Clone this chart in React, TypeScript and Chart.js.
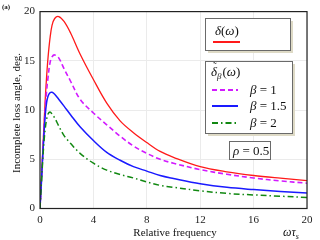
import { useEffect, useRef } from 'react';
import { Chart, registerables } from 'chart.js';
Chart.register(...registerables);

const freq = [0, 0.1, 0.2, 0.3, 0.4, 0.5, 0.6, 0.75, 0.9, 1.1, 1.4, 1.8, 2.3, 3, 4, 5, 6, 7, 8, 9, 10, 12, 14, 16, 18, 20];
const delta = [0, 2.8, 5.7, 8.5, 11.3, 13.5, 15.3, 17.3, 18.6, 19.3, 19.5, 19.0, 17.8, 15.7, 13.1, 10.7, 8.9, 7.7, 6.7, 5.8, 5.2, 4.25, 3.72, 3.35, 3.08, 2.84];
const beta1 = [0, 2.6, 5.3, 8.0, 10.3, 12.0, 13.3, 14.8, 15.4, 15.6, 15.3, 14.2, 12.9, 11.1, 9.7, 8.5, 7.35, 6.35, 5.6, 5.0, 4.6, 3.95, 3.48, 3.1, 2.8, 2.57];
const beta15 = [0, 2.6, 5.2, 7.6, 9.6, 10.8, 11.4, 11.75, 11.8, 11.6, 11.1, 10.4, 9.5, 8.3, 6.9, 5.7, 4.9, 4.25, 3.8, 3.35, 3.05, 2.52, 2.15, 1.92, 1.73, 1.58];
const beta2 = [0, 2.4, 4.8, 6.8, 8.2, 9.1, 9.6, 9.8, 9.6, 9.2, 8.4, 7.4, 6.6, 5.6, 4.6, 3.9, 3.45, 3.1, 2.7, 2.35, 2.15, 1.8, 1.53, 1.38, 1.25, 1.12];
const betaLabels = ['1', '1.5', '2'];
const xTicks = [0, 4, 8, 12, 16, 20];
const yTicks = [0, 5, 10, 15, 20];

const SERIF = '"Liberation Serif", "DejaVu Serif", serif';
const RED = '#ff1a1a';
const MAGENTA = '#d21aff';
const BLUE = '#1a1aff';
const GREEN = '#118811';
const DASH_M = [5, 3];
const DASH_G = [6, 3, 1.5, 3];

const pts = (ys: number[]) => freq.map((x, i) => ({ x, y: ys[i] }));

function drawSample(ctx: CanvasRenderingContext2D, x1: number, x2: number, y: number, color: string, dash: number[], lw: number) {
  ctx.save();
  ctx.strokeStyle = color;
  ctx.lineWidth = lw;
  ctx.setLineDash(dash);
  ctx.beginPath();
  ctx.moveTo(x1, y);
  ctx.lineTo(x2, y);
  ctx.stroke();
  ctx.restore();
}

function drawBox(ctx: CanvasRenderingContext2D, x: number, y: number, w: number, h: number, shadow: number) {
  if (shadow > 0) {
    ctx.fillStyle = '#dedac6';
    ctx.fillRect(x + shadow, y + shadow, w, h);
  }
  ctx.fillStyle = '#ffffff';
  ctx.fillRect(x, y, w, h);
  ctx.strokeStyle = '#6a6a6a';
  ctx.lineWidth = 1;
  ctx.strokeRect(x + 0.5, y + 0.5, w, h);
}

function runs(ctx: CanvasRenderingContext2D, x: number, y: number, parts: [string, string][]) {
  let cx = x;
  for (const [font, text] of parts) {
    ctx.font = font;
    ctx.fillText(text, cx, y);
    cx += ctx.measureText(text).width;
  }
  return cx;
}

const overlay = {
  id: 'overlay',
  afterDraw(chart: any) {
    const { ctx, chartArea: a } = chart;
    ctx.save();
    ctx.strokeStyle = '#222';
    ctx.lineWidth = 1.2;
    ctx.strokeRect(a.left, a.top, a.right - a.left, a.bottom - a.top);

    ctx.fillStyle = '#111';
    ctx.textBaseline = 'alphabetic';
    ctx.textAlign = 'left';
    const it = (s: number) => `italic ${s}px ${SERIF}`;
    const rg = (s: number) => `${s}px ${SERIF}`;

    // (a)
    ctx.font = `bold 7px ${SERIF}`;
    ctx.fillText('(a)', 2, 9);

    // Legend box 1
    drawBox(ctx, 205, 18, 85, 32, 3);
    ctx.fillStyle = '#111';
    runs(ctx, 215, 35, [[it(13), 'δ'], [rg(13), '('], [it(13), 'ω'], [rg(13), ')']]);
    drawSample(ctx, 213, 240, 42, RED, [], 2);

    // Legend box 2
    drawBox(ctx, 205, 61, 87, 72, 3);
    ctx.fillStyle = '#111';
    ctx.font = it(13);
    const dw = ctx.measureText('δ').width;
    ctx.fillText('δ', 211, 76);
    ctx.font = rg(11);
    ctx.fillText('˜', 212 + dw / 2 - 2, 70);
    runs(ctx, 211 + dw, 79, [[it(9), 'β']]);
    ctx.font = it(9);
    const bw = ctx.measureText('β').width;
    runs(ctx, 212 + dw + bw, 76, [[rg(13), '('], [it(13), 'ω'], [rg(13), ')']]);

    const rows: [number, string, number[]][] = [[90, MAGENTA, DASH_M], [106, BLUE, []], [123, GREEN, DASH_G]];
    rows.forEach(([y, c, d], i) => {
      drawSample(ctx, 212, 238, y, c, d, 2);
      ctx.fillStyle = '#111';
      runs(ctx, 250, y + 4, [[it(13), 'β'], [rg(13), ' = ' + betaLabels[i]]]);
    });

    // rho box
    drawBox(ctx, 229, 141, 41, 18, 0);
    ctx.fillStyle = '#111';
    runs(ctx, 233, 155, [[it(13), 'ρ'], [rg(13), ' = 0.5']]);

    // axis titles
    ctx.font = rg(11);
    ctx.textAlign = 'center';
    ctx.fillText('Relative frequency', 175, 236);
    ctx.textAlign = 'left';
    let ex = runs(ctx, 283, 236, [[it(12), 'ωτ']]);
    runs(ctx, ex, 239, [[it(8), 's']]);

    ctx.save();
    ctx.translate(17, 113);
    ctx.rotate(-Math.PI / 2);
    ctx.textAlign = 'center';
    ctx.textBaseline = 'middle';
    ctx.font = rg(11);
    ctx.fillText('Incomplete loss angle, deg.', 0, 0);
    ctx.restore();

    ctx.restore();
  },
};

export default function App() {
  const ref = useRef<HTMLCanvasElement>(null);
  useEffect(() => {
    const line = (data: number[], color: string, dash: number[], w: number) => ({
      data: pts(data),
      borderColor: color,
      borderWidth: w,
      borderDash: dash,
      pointRadius: 0,
      fill: false,
      tension: 0.35,
    });
    const chart = new Chart(ref.current!, {
      type: 'line',
      data: {
        datasets: [
          line(beta2, GREEN, DASH_G, 1.5),
          line(beta15, BLUE, [], 1.5),
          line(beta1, MAGENTA, DASH_M, 1.6),
          line(delta, RED, [], 1.3),
        ],
      },
      options: {
        animation: false,
        responsive: false,
        devicePixelRatio: 1,
        layout: { padding: { top: 8, right: 13, left: 0, bottom: 0 } },
        plugins: { legend: { display: false }, tooltip: { enabled: false }, title: { display: false } },
        scales: {
          x: {
            type: 'linear',
            min: 0,
            max: 20,
            afterFit: (s: any) => { s.height = 31.5; },
            afterBuildTicks: (s: any) => { s.ticks = xTicks.map((v) => ({ value: v })); },
            grid: { color: '#ebebeb', drawTicks: false },
            border: { display: false },
            ticks: { padding: 5, color: '#222', font: { family: SERIF, size: 11 }, maxRotation: 0 },
          },
          y: {
            type: 'linear',
            min: 0,
            max: 20,
            afterFit: (s: any) => { s.width = 40; },
            afterBuildTicks: (s: any) => { s.ticks = yTicks.map((v) => ({ value: v })); },
            grid: { color: '#ebebeb', drawTicks: false },
            border: { display: false },
            ticks: { padding: 5, color: '#222', font: { family: SERIF, size: 11 } },
          },
        },
      },
      plugins: [overlay],
    });
    return () => chart.destroy();
  }, []);
  return (
    <div style={{ position: 'fixed', left: 0, top: 0, width: 320, height: 240, background: '#fff' }}>
      <canvas ref={ref} width={320} height={240} style={{ width: 320, height: 240, display: 'block' }} />
    </div>
  );
}
